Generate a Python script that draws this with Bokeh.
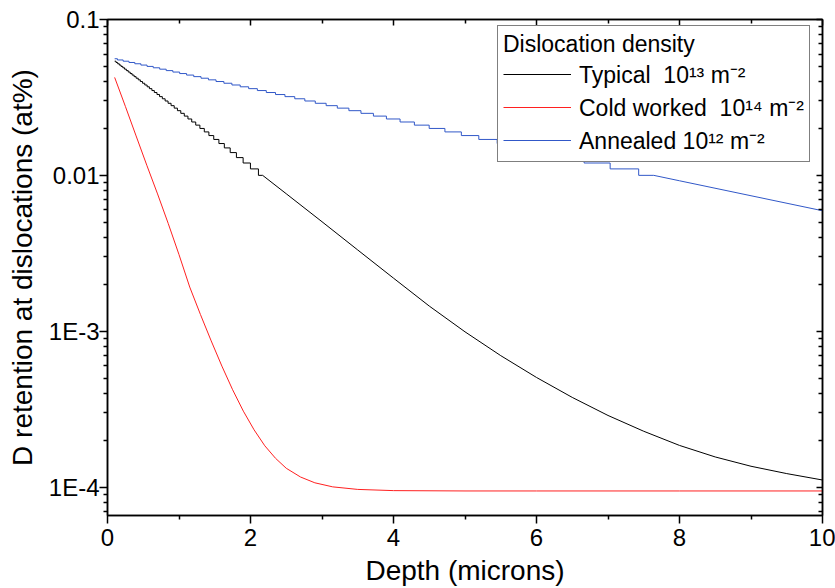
from bokeh.plotting import figure
from bokeh.models import (LinearAxis, LogAxis, FixedTicker, CustomJSTickFormatter,
                          Legend, LegendItem, Range1d)
from bokeh.embed import file_html
from bokeh.resources import INLINE

FONT = "Liberation Sans"

x_label = "Depth (microns)"
y_label = "D retention at dislocations (at%)"
legend_title = "Dislocation density"
series_names = ["Typical  10\u00b9\u00b3 m\u207b\u00b2",
                "Cold worked  10\u00b9\u2074 m\u207b\u00b2",
                "Annealed 10\u00b9\u00b2 m\u207b\u00b2"]

x_major = [0, 2, 4, 6, 8, 10]
x_minor = [1, 3, 5, 7, 9]
y_major = [1e-4, 1e-3, 1e-2, 1e-1]
y_minor = [7e-5, 8e-5, 9e-5,
           2e-4, 3e-4, 4e-4, 5e-4, 6e-4, 7e-4, 8e-4, 9e-4,
           2e-3, 3e-3, 4e-3, 5e-3, 6e-3, 7e-3, 8e-3, 9e-3,
           2e-2, 3e-2, 4e-2, 5e-2, 6e-2, 7e-2, 8e-2, 9e-2]

# Typical (black): values printed to 0.001 above 0.01 -> staircase, then smooth
typical_levels = [0.054, 0.053, 0.052, 0.051, 0.050, 0.049, 0.048, 0.047, 0.046, 0.045,
                  0.044, 0.043, 0.042, 0.041, 0.040, 0.039, 0.038, 0.037, 0.036, 0.035,
                  0.034, 0.033, 0.032, 0.031, 0.030, 0.029, 0.028, 0.027, 0.026, 0.025,
                  0.024, 0.023, 0.022, 0.021, 0.020, 0.019, 0.018, 0.017, 0.016, 0.015,
                  0.014, 0.013, 0.012, 0.011, 0.010]
typical_level_start = [0.10, 0.119, 0.142, 0.165, 0.189, 0.214, 0.239, 0.264, 0.290, 0.317,
                       0.344, 0.372, 0.400, 0.430, 0.459, 0.490, 0.521, 0.554, 0.586, 0.621,
                       0.655, 0.692, 0.728, 0.767, 0.806, 0.847, 0.889, 0.933, 0.978, 1.025,
                       1.074, 1.125, 1.178, 1.234, 1.292, 1.354, 1.418, 1.486, 1.558, 1.634,
                       1.716, 1.803, 1.897, 1.999, 2.111]
typical_tail_x = [2.17, 2.50, 3.00, 3.50, 4.00, 4.50, 5.00, 5.50, 6.00, 6.50, 7.00,
                  7.50, 8.00, 8.50, 9.00, 9.50, 10.0]
typical_tail_y = [0.0100, 0.00762, 0.00504, 0.00332, 0.00219, 0.00145, 9.91e-4, 6.97e-4,
                  5.05e-4, 3.76e-4, 2.88e-4, 2.28e-4, 1.85e-4, 1.56e-4, 1.36e-4, 1.22e-4,
                  1.11e-4]

# Cold worked (red)
cold_x = [0.10, 0.25, 0.40, 0.55, 0.70, 0.85, 1.00, 1.15, 1.30, 1.45, 1.60, 1.75, 1.90,
          2.05, 2.20, 2.35, 2.50, 2.70, 2.90, 3.15, 3.50, 4.00, 5.0, 6.0, 8.0, 10.0]
cold_y = [0.0425, 0.0277, 0.0179, 0.0116, 0.0076, 0.0049, 0.0031, 0.00192, 0.00128,
          8.67e-4, 5.97e-4, 4.21e-4, 3.07e-4, 2.33e-4, 1.84e-4, 1.53e-4, 1.32e-4,
          1.16e-4, 1.065e-4, 1.003e-4, 9.66e-5, 9.49e-5, 9.44e-5, 9.44e-5, 9.44e-5, 9.44e-5]

# Annealed (blue): staircase above 0.01, then smooth
annealed_levels = [0.056, 0.055, 0.054, 0.053, 0.052, 0.051, 0.050, 0.049, 0.048, 0.047,
                   0.046, 0.045, 0.044, 0.043, 0.042, 0.041, 0.040, 0.039, 0.038, 0.037,
                   0.036, 0.035, 0.034, 0.033, 0.032, 0.031, 0.030, 0.029, 0.028, 0.027,
                   0.026, 0.025, 0.024, 0.023, 0.022, 0.021, 0.020, 0.019, 0.018, 0.017,
                   0.016, 0.015, 0.014, 0.013, 0.012, 0.011, 0.010]
annealed_level_start = [0.10, 0.139, 0.219, 0.300, 0.382, 0.467, 0.553, 0.640, 0.730, 0.821,
                        0.914, 1.009, 1.106, 1.206, 1.308, 1.412, 1.518, 1.628, 1.740, 1.856,
                        1.974, 2.096, 2.221, 2.350, 2.482, 2.619, 2.760, 2.906, 3.058, 3.214,
                        3.376, 3.545, 3.719, 3.901, 4.092, 4.292, 4.499, 4.719, 4.949, 5.193,
                        5.450, 5.724, 6.015, 6.329, 6.666, 7.030, 7.429]
annealed_tail_x = [7.64, 8.00, 9.00, 10.0]
annealed_tail_y = [0.0100, 0.00923, 0.0074, 0.00593]

BLACK = "#000000"
RED = "#ff2020"
BLUE = "#3158c8"


def staircase(starts, levels, tail_x, tail_y):
    xs, ys = [], []
    ends = starts[1:] + [tail_x[0]]
    for s, e, v in zip(starts, ends, levels):
        xs += [s, e]
        ys += [v, v]
    xs += tail_x
    ys += tail_y
    return xs, ys


bx, by = staircase(typical_level_start, typical_levels, typical_tail_x, typical_tail_y)
ax_, ay_ = staircase(annealed_level_start, annealed_levels, annealed_tail_x, annealed_tail_y)

p = figure(width=835, height=588, x_range=Range1d(0, 10), y_range=Range1d(6.57e-5, 0.1),
           y_axis_type="log", output_backend="svg", toolbar_location=None,
           min_border_left=107, min_border_right=13, min_border_top=19, min_border_bottom=73)
p.xgrid.visible = False
p.ygrid.visible = False
p.outline_line_color = "black"
p.outline_line_width = 1.5
p.background_fill_color = "white"
p.border_fill_color = "white"

r_black = p.line(bx, by, line_color=BLACK, line_width=1)
r_red = p.line(cold_x, cold_y, line_color=RED, line_width=1)
r_blue = p.line(ax_, ay_, line_color=BLUE, line_width=1)

# legend key glyphs: zero-length segments at each series' first point (invisible on the plot)
k_black = p.segment(x0=[bx[0]], y0=[by[0]], x1=[bx[0]], y1=[by[0]], line_color=BLACK, line_width=1)
k_red = p.segment(x0=[cold_x[0]], y0=[cold_y[0]], x1=[cold_x[0]], y1=[cold_y[0]], line_color=RED, line_width=1)
k_blue = p.segment(x0=[ax_[0]], y0=[ay_[0]], x1=[ax_[0]], y1=[ay_[0]], line_color=BLUE, line_width=1)

# bottom axis
xa = p.xaxis[0]
xa.ticker = FixedTicker(ticks=x_major, minor_ticks=x_minor)
xa.axis_label = x_label
# left axis
ya = p.yaxis[0]
ya.ticker = FixedTicker(ticks=y_major, minor_ticks=y_minor)
ya.formatter = CustomJSTickFormatter(code="""
const e = Math.round(Math.log10(tick));
if (e == -1) return "0.1";
if (e == -2) return "0.01";
return "1E" + e;
""")
ya.axis_label = y_label

for a in (xa, ya):
    a.axis_line_color = "black"
    a.axis_line_width = 1.5
    a.major_tick_line_color = "black"
    a.minor_tick_line_color = "black"
    a.major_tick_line_width = 1.5
    a.minor_tick_line_width = 1.5
    a.major_tick_in = 0
    a.major_tick_out = 8
    a.minor_tick_in = 0
    a.minor_tick_out = 4
    a.major_label_text_font = FONT
    a.major_label_text_font_size = "24px"
    a.major_label_text_color = "black"
    a.axis_label_text_font = FONT
    a.axis_label_text_font_size = "28px"
    a.axis_label_text_font_style = "normal"
    a.axis_label_text_color = "black"
xa.major_label_standoff = 5
xa.axis_label_standoff = 6
ya.major_label_standoff = 0
ya.axis_label_standoff = 8

# mirrored axes with inward ticks, labels hidden
top = LinearAxis(ticker=FixedTicker(ticks=x_major, minor_ticks=x_minor))
right = LogAxis(ticker=FixedTicker(ticks=y_major, minor_ticks=y_minor))
for a in (top, right):
    a.axis_line_color = "black"
    a.axis_line_width = 1.5
    a.major_tick_line_color = "black"
    a.minor_tick_line_color = "black"
    a.major_tick_line_width = 1.5
    a.minor_tick_line_width = 1.5
    a.major_tick_in = 6
    a.major_tick_out = 0
    a.minor_tick_in = 4
    a.minor_tick_out = 0
    a.major_label_text_color = None
    a.major_label_text_font_size = "1px"
    a.major_label_standoff = 0
p.add_layout(top, "above")
p.add_layout(right, "right")

# legend placed by its bottom-left corner, in pixels from the frame's bottom-left
legend = Legend(items=[LegendItem(label=series_names[0], renderers=[k_black]),
                       LegendItem(label=series_names[1], renderers=[k_red]),
                       LegendItem(label=series_names[2], renderers=[k_blue])],
                location=(390, 353))
legend.title = legend_title
legend.title_text_font = FONT
legend.title_text_font_size = "23px"
legend.title_text_font_style = "normal"
legend.title_text_color = "black"
legend.title_standoff = 0
legend.label_text_font = FONT
legend.label_text_font_size = "23px"
legend.label_text_color = "black"
legend.glyph_width = 68
legend.glyph_height = 20
legend.label_height = 20
legend.label_standoff = 8
legend.spacing = 1
legend.padding = 5
legend.margin = 0
legend.border_line_color = "black"
legend.border_line_width = 1.5
legend.background_fill_color = "white"
legend.background_fill_alpha = 1
p.add_layout(legend)

open("out.html", "w").write(file_html(p, INLINE))
